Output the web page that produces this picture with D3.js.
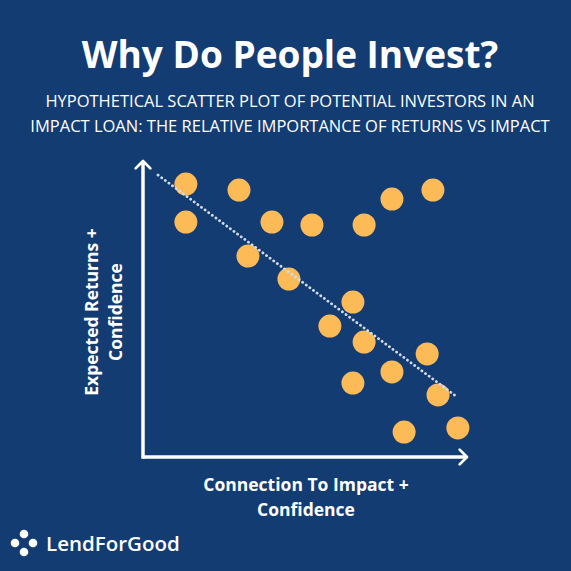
<!DOCTYPE html>
<html>
<head>
<meta charset="utf-8">
<title>Why Do People Invest?</title>
<style>
  body { margin: 0; background: #133c72; }
  svg { display: block; }
</style>
</head>
<body>
<script src="https://cdn.jsdelivr.net/npm/d3@7"></script>
<script>

// investors: x = connection to impact, y = expected returns (arbitrary 0-10 units)
var impact  = [1.34, 3.0, 1.34, 4.03, 5.28, 6.91, 7.78, 9.06, 3.28, 4.56, 6.56, 5.84, 6.91, 8.88, 7.78, 6.56, 9.22, 8.16, 9.84];
var returns = [8.53, 8.34, 7.34, 7.34, 7.25, 7.25, 8.06, 8.34, 6.28, 5.56, 4.84, 4.09, 3.59, 3.22, 2.66, 2.31, 1.94, 0.78, 0.91];

// dotted trend line, start and end
var trendX = [0.47, 9.81];
var trendY = [8.81, 1.88];

var title = "Why Do People Invest?";
var subtitle = ["HYPOTHETICAL SCATTER PLOT OF POTENTIAL INVESTORS IN AN",
                "IMPACT LOAN: THE RELATIVE IMPORTANCE OF RETURNS VS IMPACT"];
var xLabel = ["Connection To Impact +", "Confidence"];
var yLabel = ["Expected Returns +", "Confidence"];

var width = 571, height = 571;
var bg = "#133c72", dotColor = "#fdbb58";

var svg = d3.select("body").append("svg")
    .attr("width", width)
    .attr("height", height);

svg.append("rect").attr("width", width).attr("height", height).attr("fill", bg);

// scales
var x = d3.scaleLinear().domain([0, 10]).range([143, 463]);
var y = d3.scaleLinear().domain([0, 10]).range([457, 137]);

// title + subtitle
svg.append("text")
    .attr("x", 290).attr("y", 68)
    .attr("text-anchor", "middle")
    .attr("font-family", "'Open Sans', sans-serif")
    .attr("font-weight", 700)
    .attr("font-size", "37px")
    .attr("fill", "white")
    .text(title);

svg.selectAll("text.sub")
    .data(subtitle)
    .enter().append("text")
    .attr("class", "sub")
    .attr("x", 290)
    .attr("y", function(d, i){ return 107 + i * 25; })
    .attr("text-anchor", "middle")
    .attr("font-family", "'Open Sans', sans-serif")
    .attr("font-size", "16.5px")
    .attr("fill", "white")
    .text(function(d){ return d; });

// arrow marker
var defs = svg.append("defs");
defs.append("marker")
    .attr("id", "arrow")
    .attr("viewBox", "-10 -10 20 20")
    .attr("refX", 0).attr("refY", 0)
    .attr("markerWidth", 6).attr("markerHeight", 6)
    .attr("markerUnits", "strokeWidth")
    .attr("orient", "auto")
  .append("path")
    .attr("d", "M-7,-7 L0,0 L-7,7")
    .attr("fill", "none")
    .attr("stroke", "white")
    .attr("stroke-width", 2.6)
    .attr("stroke-linecap", "round")
    .attr("stroke-linejoin", "round");

// axes (no ticks, just arrows)
var x0 = x.range()[0], y0 = y.range()[0];
svg.append("line")
    .attr("x1", x0).attr("y1", y0)
    .attr("x2", 467).attr("y2", y0)
    .attr("stroke", "white").attr("stroke-width", 3.5)
    .attr("marker-end", "url(#arrow)");
svg.append("line")
    .attr("x1", x0).attr("y1", y0 + 1.75)
    .attr("x2", x0).attr("y2", 161)
    .attr("stroke", "white").attr("stroke-width", 3.5)
    .attr("marker-end", "url(#arrow)");

// points
svg.selectAll("circle.pt")
    .data(impact)
    .enter().append("circle")
    .attr("class", "pt")
    .attr("cx", function(d){ return x(d); })
    .attr("cy", function(d, i){ return y(returns[i]); })
    .attr("r", 11.5)
    .attr("fill", dotColor);

// trend line (on top of dots)
svg.append("line")
    .attr("x1", x(trendX[0])).attr("y1", y(trendY[0]))
    .attr("x2", x(trendX[1])).attr("y2", y(trendY[1]))
    .attr("stroke", "#d3dbe6")
    .attr("stroke-width", 2.8)
    .attr("stroke-dasharray", "0.1 4.4")
    .attr("stroke-linecap", "round");

// axis labels
svg.selectAll("text.xl")
    .data(xLabel)
    .enter().append("text")
    .attr("class", "xl")
    .attr("x", 306)
    .attr("y", function(d, i){ return 491 + i * 25; })
    .attr("text-anchor", "middle")
    .attr("font-family", "'Open Sans', sans-serif")
    .attr("font-weight", 700)
    .attr("font-size", "17.5px")
    .attr("fill", "white")
    .text(function(d){ return d; });

svg.selectAll("text.yl")
    .data(yLabel)
    .enter().append("text")
    .attr("class", "yl")
    .attr("transform", function(d, i){ return "translate(" + (98 + i * 24) + ",312) rotate(-90)"; })
    .attr("text-anchor", "middle")
    .attr("font-family", "'Open Sans', sans-serif")
    .attr("font-weight", 700)
    .attr("font-size", "17.5px")
    .attr("fill", "white")
    .text(function(d){ return d; });

// logo
var logoDots = [[15, 543], [24, 534], [33, 543], [24, 552]];
svg.selectAll("circle.logo")
    .data(logoDots)
    .enter().append("circle")
    .attr("class", "logo")
    .attr("cx", function(d){ return d[0]; })
    .attr("cy", function(d){ return d[1]; })
    .attr("r", 4.3)
    .attr("fill", "white");

svg.append("text")
    .attr("x", 46).attr("y", 551)
    .attr("font-family", "'Open Sans', sans-serif")
    .attr("font-weight", 600)
    .attr("font-size", "20.5px")
    .attr("fill", "white")
    .text("LendForGood");

</script>
</body>
</html>
